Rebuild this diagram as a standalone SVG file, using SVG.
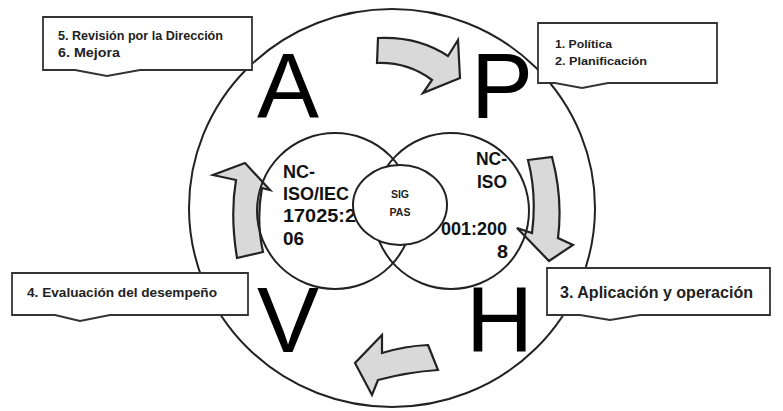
<svg xmlns="http://www.w3.org/2000/svg" width="783" height="411" viewBox="0 0 783 411">
<style>
.ln{fill:#fff;stroke:#222;stroke-width:2}
.arr{fill:#d9d9d9;stroke:#222;stroke-width:2.2;stroke-linejoin:miter}
.call{fill:#fff;stroke:#333;stroke-width:1.8}
.big{font-family:"Liberation Sans",Arial,sans-serif;font-size:93px;fill:#000}
.nc{font-family:"Liberation Sans",Arial,sans-serif;font-size:19px;font-weight:bold;fill:#111}
.ct{font-family:"Liberation Sans",Arial,sans-serif;font-weight:bold;fill:#222}
</style>
<rect width="783" height="411" fill="#fff"/>
<g id="outer-circle"><ellipse class="ln" cx="392" cy="208" rx="203" ry="199"/></g>
<g id="letters">
<text class="big" x="257" y="118">A</text>
<text class="big" x="471" y="118">P</text>
<text class="big" x="257" y="352">V</text>
<text class="big" x="466" y="352">H</text>
</g>
<g id="connectors">
<path class="arr" d="M378,38 Q418,36 448,56 L458,40 L460,78 L423,93 L432,80 Q408,62 377,63 Z"/>
<path class="arr" d="M528,160 L552,157 Q563,198 558,238 L573,245 L549,261 L517,228 L532,233 Q537,195 528,160 Z"/>
<path class="arr" d="M428,345 Q405,346 382,353 L382,335 L355,363 L372,395 L378,380 Q408,372 438,370 Z"/>
<path class="arr" d="M237,258 Q230,215 236,180 L213,175 L245,163 L270,190 L262,188 Q256,220 263,252 Z"/>
</g>
<g id="iso17025">
<circle class="ln" cx="335" cy="211" r="78" style="fill:none"/>
<text class="nc" x="283" y="178" textLength="32" lengthAdjust="spacingAndGlyphs">NC-</text>
<text class="nc" x="283" y="200" textLength="66" lengthAdjust="spacingAndGlyphs">ISO/IEC</text>
<text class="nc" x="283" y="222" textLength="84" lengthAdjust="spacingAndGlyphs">17025:20</text>
<text class="nc" x="283" y="245" textLength="21" lengthAdjust="spacingAndGlyphs">06</text>
</g>
<g id="iso9001">
<circle class="ln" cx="451" cy="211" r="78" style="fill:none"/>
<text class="nc" x="476" y="165" textLength="31" lengthAdjust="spacingAndGlyphs">NC-</text>
<text class="nc" x="477" y="188" textLength="30" lengthAdjust="spacingAndGlyphs">ISO</text>
<text class="nc" x="441" y="235" textLength="66" lengthAdjust="spacingAndGlyphs">001:200</text>
<text class="nc" x="497" y="258" textLength="11" lengthAdjust="spacingAndGlyphs">8</text>
</g>
<g id="sig-pas">
<ellipse class="ln" cx="400" cy="205" rx="47" ry="40"/>
<text class="ct" x="400" y="198" font-size="10.5" text-anchor="middle">SIG</text>
<text class="ct" x="400" y="216" font-size="10.5" text-anchor="middle">PAS</text>
</g>
<g id="callout-revision">
<path class="call" d="M43,17 H252 V70 H140 L107,76 L75,70 H43 Z"/>
<text class="ct" x="58" y="40" font-size="12" textLength="165" lengthAdjust="spacingAndGlyphs">5. Revisión por la Dirección</text>
<text class="ct" x="58" y="57" font-size="12" textLength="62" lengthAdjust="spacingAndGlyphs">6. Mejora</text>
</g>
<g id="callout-politica">
<path class="call" d="M538,23 H717 V83 H608 L582,88 L555,83 H538 Z"/>
<text class="ct" x="555" y="48" font-size="11.5" textLength="57" lengthAdjust="spacingAndGlyphs">1. Política</text>
<text class="ct" x="555" y="65" font-size="11.5" textLength="92" lengthAdjust="spacingAndGlyphs">2. Planificación</text>
</g>
<g id="callout-evaluacion">
<path class="call" d="M12,273 H248 V315 H110 L80,321 L55,315 H12 Z"/>
<text class="ct" x="27" y="297" font-size="13" textLength="190" lengthAdjust="spacingAndGlyphs">4. Evaluación del desempeño</text>
</g>
<g id="callout-aplicacion">
<path class="call" d="M547,268 H770 V315 H640 L610,320 L580,315 H547 Z"/>
<text class="ct" x="560" y="298" font-size="17" textLength="193" lengthAdjust="spacingAndGlyphs">3. Aplicación y operación</text>
</g>
</svg>
